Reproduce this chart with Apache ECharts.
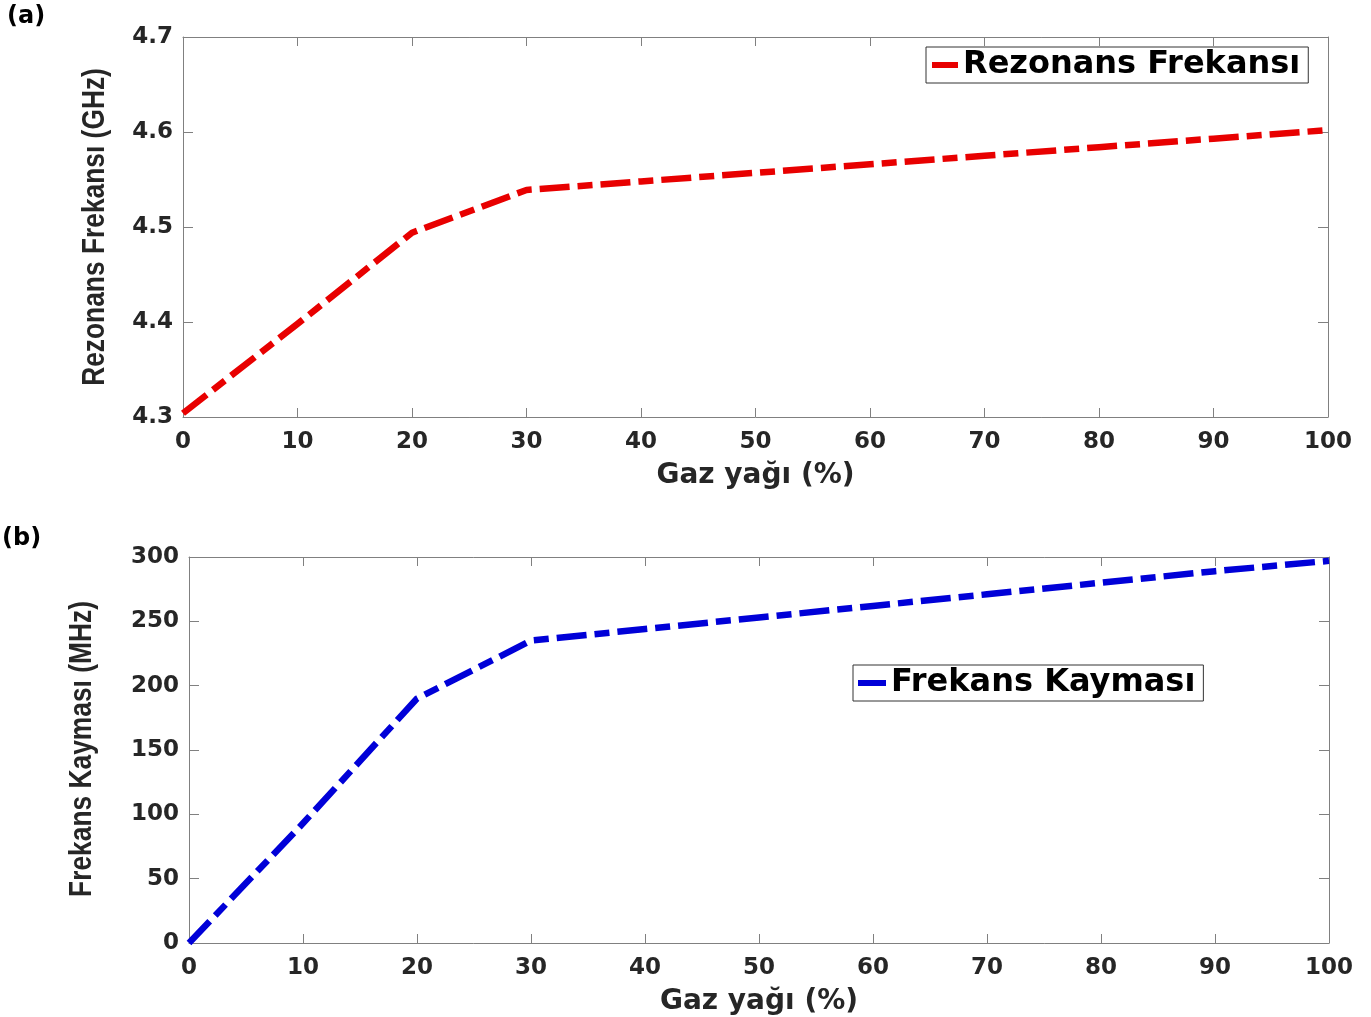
<!DOCTYPE html>
<html>
<head>
<meta charset="utf-8">
<script src="https://cdn.jsdelivr.net/npm/echarts@6/dist/echarts.min.js"></script>
<style>
html,body{margin:0;padding:0;background:#fff;}
#c{width:1371px;height:1017px;}
</style>
</head>
<body>
<div id="c"></div>
<script>
// ---- data ----
var gasOil = [0, 10, 20, 30, 40, 50, 60, 70, 80, 90, 100];
var resonanceGHz = [4.304, 4.398, 4.494, 4.539, 4.548, 4.557, 4.566, 4.575, 4.584, 4.593, 4.602];
var shiftMHz = [0, 93, 190, 235, 244, 253, 262, 271, 280, 289, 297];
var xTicks = [0, 10, 20, 30, 40, 50, 60, 70, 80, 90, 100];
var yTicksTop = [4.3, 4.4, 4.5, 4.6, 4.7];
var yTicksBottom = [0, 50, 100, 150, 200, 250, 300];
var titleTopY = 'Rezonans Frekansı (GHz)';
var titleBottomY = 'Frekans Kayması (MHz)';
var titleX = 'Gaz yağı (%)';

var wideFont = 'DejaVu Sans';
var armFont = '"Liberation Sans", Arial, sans-serif';
var axisGray = '#808080';
var textDark = '#262626';

function pairs(xs, ys) { return xs.map(function (x, i) { return [x, ys[i]]; }); }

function xAx(grid, show) {
  return {
    type: 'value', gridIndex: grid, min: xTicks[0], max: xTicks[xTicks.length - 1], interval: 10,
    position: show ? 'bottom' : 'top',
    name: show ? titleX : '', nameLocation: 'middle', nameGap: 45,
    nameTextStyle: { fontFamily: wideFont, fontWeight: 'bold', fontSize: 28, color: textDark },
    axisLine: { show: true, onZero: false, lineStyle: { color: axisGray, width: 1 } },
    axisTick: { show: true, inside: true, length: 9, lineStyle: { color: axisGray } },
    axisLabel: { show: show, margin: 14, fontFamily: wideFont, fontWeight: 'bold', fontSize: 23, color: textDark },
    splitLine: { show: false }
  };
}
function yAx(grid, show, ticks, fmt) {
  return {
    type: 'value', gridIndex: grid, min: ticks[0], max: ticks[ticks.length - 1],
    interval: ticks[1] - ticks[0],
    position: show ? 'left' : 'right',
    axisLine: { show: true, onZero: false, lineStyle: { color: axisGray, width: 1 } },
    axisTick: { show: true, inside: true, length: 10, lineStyle: { color: axisGray } },
    axisLabel: { show: show, margin: 10, fontFamily: wideFont, fontWeight: 'bold', fontSize: 23, color: textDark, formatter: fmt },
    splitLine: { show: false }
  };
}
function yTitle(text, x, y) {
  return {
    type: 'text', x: x, y: y, rotation: Math.PI / 2, scaleX: 0.85, scaleY: 1,
    style: { text: text, fontFamily: armFont, fontWeight: 'bold', fontSize: 31, fill: textDark,
             align: 'center', verticalAlign: 'middle' }
  };
}

var chart = echarts.init(document.getElementById('c'), null, { renderer: 'canvas' });
chart.setOption({
  backgroundColor: '#ffffff',
  animation: false,
  grid: [
    { left: 183, top: 37, width: 1145, height: 380, containLabel: false, outerBoundsMode: 'none' },
    { left: 189, top: 557, width: 1140, height: 386, containLabel: false, outerBoundsMode: 'none' }
  ],
  xAxis: [xAx(0, true), xAx(0, false), xAx(1, true), xAx(1, false)],
  yAxis: [
    yAx(0, true, yTicksTop, function (v) { return v.toFixed(1); }),
    yAx(0, false, yTicksTop, null),
    yAx(1, true, yTicksBottom, null),
    yAx(1, false, yTicksBottom, null)
  ],
  legend: [
    {
      data: ['Rezonans Frekansı'], left: 926, top: 47, orient: 'horizontal',
      icon: 'rect', itemWidth: 26, itemHeight: 6, padding: [2, 8, 2, 6],
      borderColor: '#333', borderWidth: 1, backgroundColor: '#fff',
      textStyle: { fontFamily: wideFont, fontWeight: 'bold', fontSize: 32, color: '#000' }
    },
    {
      data: ['Frekans Kayması'], left: 853, top: 665, orient: 'horizontal',
      icon: 'rect', itemWidth: 28, itemHeight: 6, padding: [2, 8, 2, 5],
      borderColor: '#333', borderWidth: 1, backgroundColor: '#fff',
      textStyle: { fontFamily: wideFont, fontWeight: 'bold', fontSize: 32, color: '#000' }
    }
  ],
  graphic: [
    { type: 'text', left: 7, top: 5, style: { text: '(a)', fontFamily: wideFont, fontWeight: 'bold', fontSize: 24, fill: '#000' } },
    { type: 'text', left: 2, top: 527, style: { text: '(b)', fontFamily: wideFont, fontWeight: 'bold', fontSize: 24, fill: '#000' } },
    yTitle(titleTopY, 95, 227),
    yTitle(titleBottomY, 82, 749)
  ],
  series: [
    {
      name: 'Rezonans Frekansı', type: 'line', xAxisIndex: 0, yAxisIndex: 0,
      data: pairs(gasOil, resonanceGHz), showSymbol: false, symbol: 'none',
      color: '#e80000',
      lineStyle: { color: '#e80000', width: 6.5, type: [30, 8, 15, 8], cap: 'butt', join: 'round' }
    },
    {
      name: 'Frekans Kayması', type: 'line', xAxisIndex: 2, yAxisIndex: 2,
      data: pairs(gasOil, shiftMHz), showSymbol: false, symbol: 'none',
      color: '#0000d8',
      lineStyle: { color: '#0000d8', width: 6.5, type: [30, 8, 15, 8], cap: 'butt', join: 'round' }
    }
  ]
});
</script>
</body>
</html>
